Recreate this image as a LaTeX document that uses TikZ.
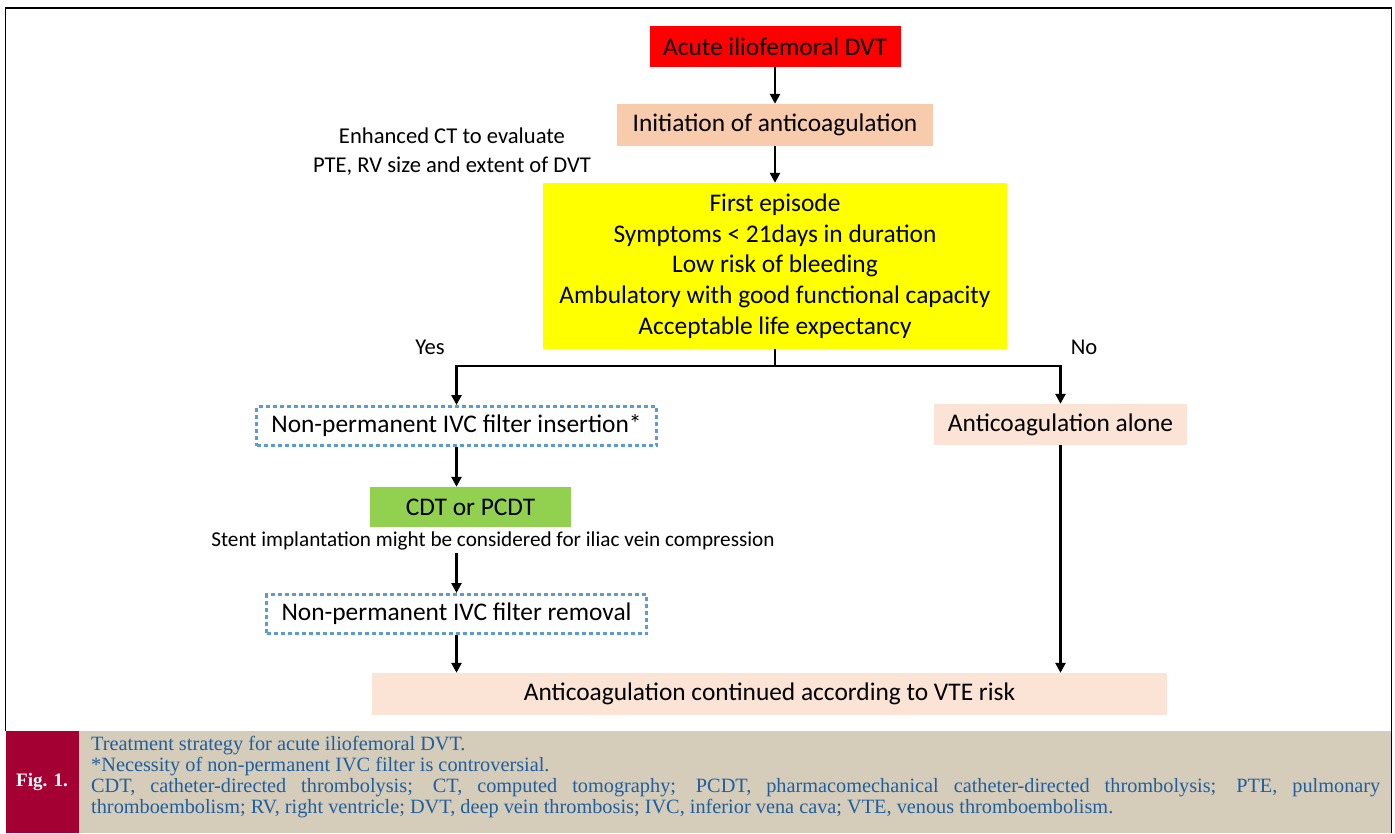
\documentclass[tikz,border=0pt]{standalone}
\usepackage{fontspec}
\setmainfont{Carlito}
\newfontfamily\capfont{Liberation Serif}
\usetikzlibrary{positioning,arrows.meta,calc}

\definecolor{redfill}{RGB}{255,0,0}
\definecolor{initfill}{RGB}{248,203,173}
\definecolor{palefill}{RGB}{251,228,213}
\definecolor{yellowfill}{RGB}{255,255,0}
\definecolor{greenfill}{RGB}{146,208,80}
\definecolor{dotblue}{RGB}{91,155,213}
\definecolor{capred}{RGB}{165,0,52}
\definecolor{capbeige}{RGB}{213,204,185}
\definecolor{capblue}{RGB}{31,95,160}

\begin{document}
\begin{tikzpicture}[x=1pt,y=-1pt,
  font=\fontsize{25.4}{30.7}\selectfont,
  >={Triangle[length=10pt,width=10pt]},
  every node/.style={inner sep=0pt},
  box/.style={minimum height=41pt,align=center},
  dotbox/.style={box,draw=dotblue,line width=3pt,dash pattern=on 4pt off 3pt,minimum height=39pt},
  note/.style={font=\fontsize{22.6}{29}\selectfont,align=center},
  link/.style={->,line width=2.5pt}]

  \useasboundingbox (0,0) rectangle (1395,833);

  \fill[capred] (5.5,731) rectangle (79,833);
  \fill[capbeige] (79,731) rectangle (1391.5,833);
  \draw[line width=1.5pt] (5.5,731) -- (5.5,8) -- (1391.5,8) -- (1391.5,833);

  \node[box,fill=redfill,minimum width=251pt] (acute) at (775,46.5) {Acute iliofemoral DVT};
  \node[box,fill=initfill,minimum width=316pt,minimum height=42pt] (init) at (775,125) {Initiation of anticoagulation};
  \node[note] (ct) at (452,152) {Enhanced CT to evaluate\\PTE, RV size and extent of DVT};
  \node[box,fill=yellowfill,minimum width=464pt,minimum height=166pt] (first) at (775,266)
    {First episode\\Symptoms < 21days in duration\\Low risk of bleeding\\Ambulatory with good functional capacity\\Acceptable life expectancy};

  \node[note] (yes) at (430,347) {Yes};
  \node[note] (no) at (1084,347) {No};
  \coordinate (split) at (775,366);

  \node[dotbox,minimum width=400pt] (insert) at (456.5,426) {Non-permanent IVC filter insertion*};
  \node[box,fill=palefill,minimum width=253pt] (alone) at (1060.5,424.5) {Anticoagulation alone};
  \node[box,fill=greenfill,minimum width=201pt,minimum height=40pt] (cdt) at (470.5,507) {CDT or PCDT};
  \node[note,font=\fontsize{21.2}{26}\selectfont] (stent) at (493,541) {Stent implantation might be considered for iliac vein compression};
  \node[dotbox,minimum width=380pt] (removal) at (456.5,614) {Non-permanent IVC filter removal};
  \node[box,fill=palefill,minimum width=795pt,minimum height=42pt] (final) at (769.5,694) {Anticoagulation continued according to VTE risk};

  \path[link] (acute) edge (init);
  \path[link] (init) edge (first);
  \draw[line width=2.5pt] (first) -- (split);
  \draw[link] (split) -| (insert.north);
  \draw[link] (split) -| (alone.north);
  \draw[link] (insert.south) -- (insert.south |- cdt.north);
  \draw[link] (removal.north |- stent.south) ++(0,3) -- (removal.north);
  \draw[link] (removal.south) -- (removal.south |- final.north);
  \draw[link] (alone.south) -- (alone.south |- final.north);

  \node[text=white,font=\capfont\bfseries\fontsize{19}{21}\selectfont] (fig) at (42,782) {Fig. 1.};
  \node[anchor=north west,text width=1289pt,align=justify,text=capblue,
    font=\capfont\fontsize{20.3}{21}\selectfont] (cap) at (91,736)
    {Treatment strategy for acute iliofemoral DVT.\\
     {*}Necessity of non-permanent IVC filter is controversial.\\
     CDT, catheter-directed thrombolysis; CT, computed tomography; PCDT, pharmacomechanical catheter-directed thrombolysis; PTE, pulmonary\linebreak
     thromboembolism; RV, right ventricle; DVT, deep vein thrombosis; IVC, inferior vena cava; VTE, venous thromboembolism.};

\end{tikzpicture}
\end{document}
